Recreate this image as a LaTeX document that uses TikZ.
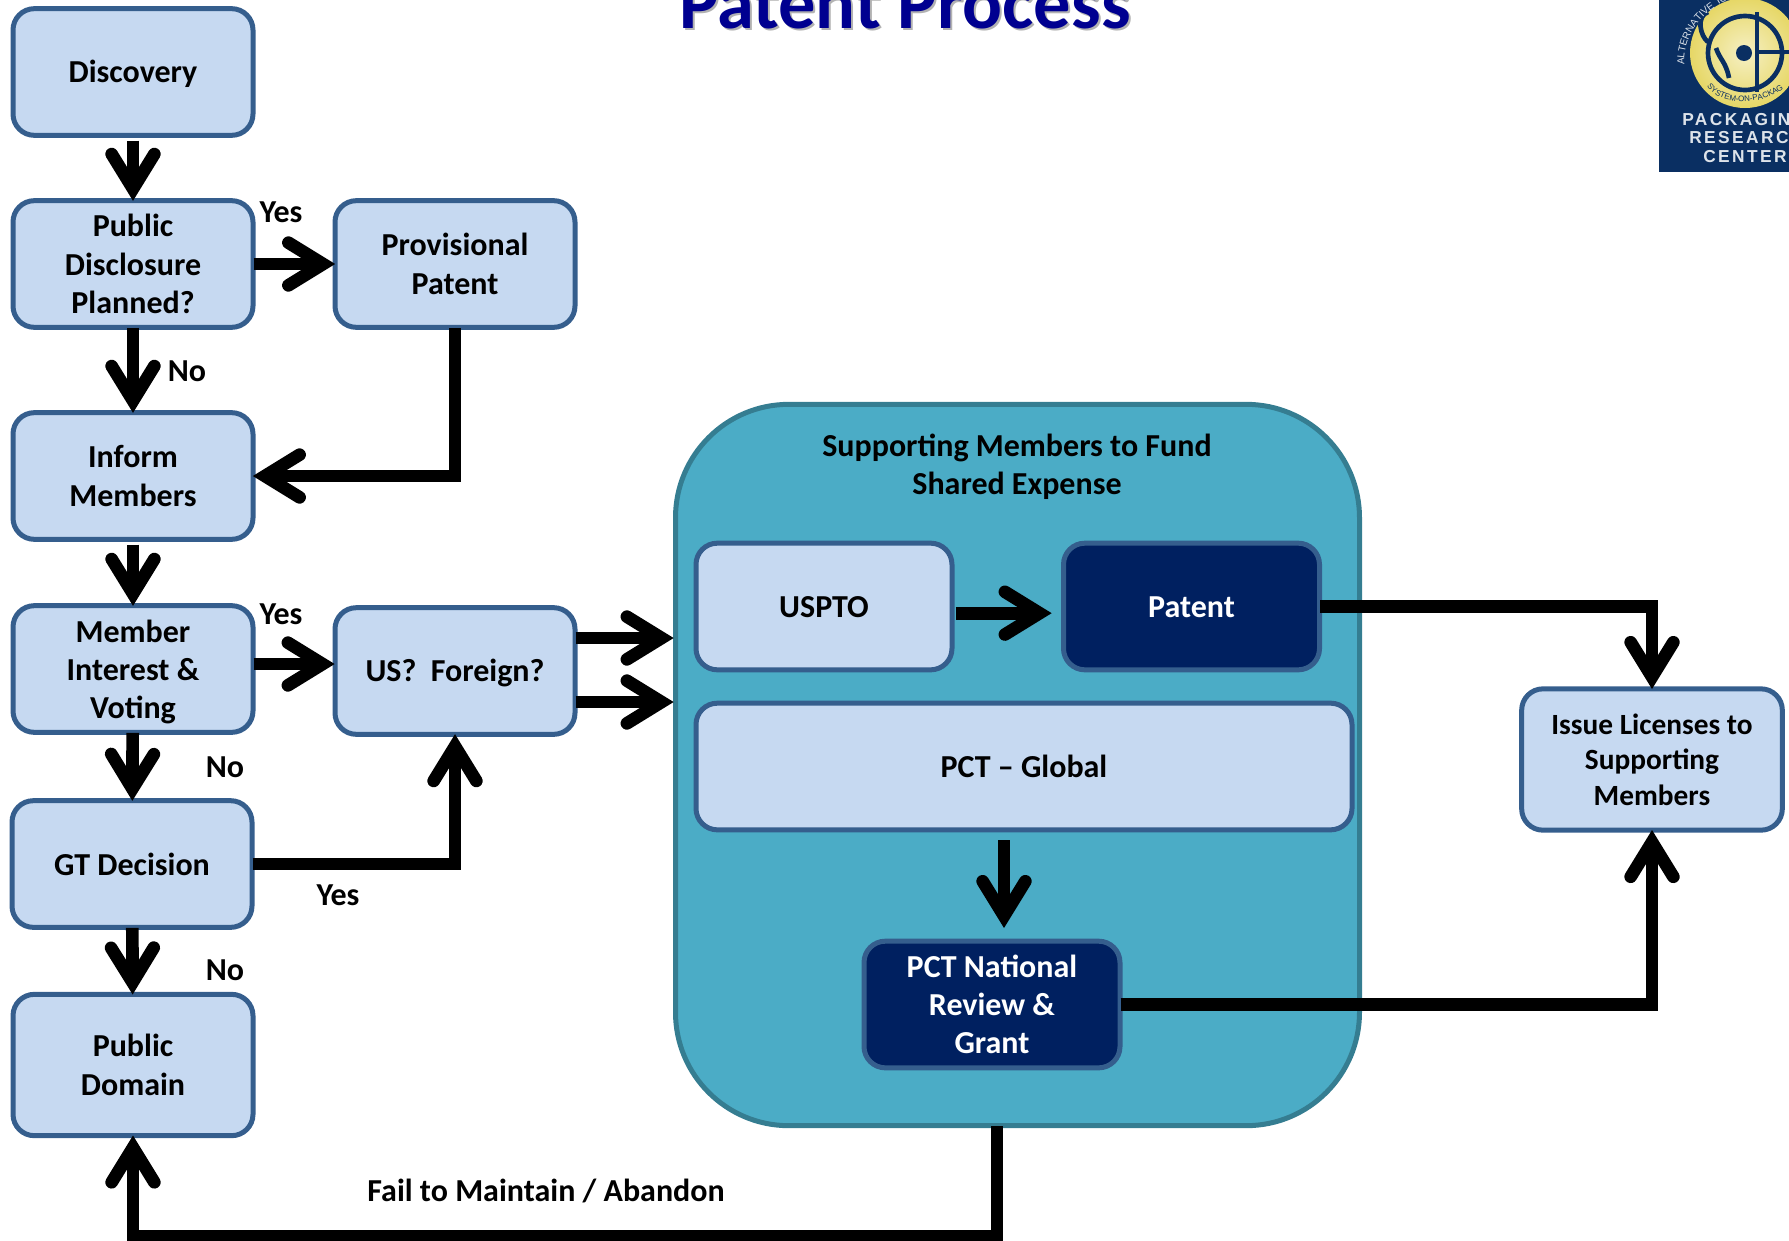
\documentclass[tikz,border=0pt]{standalone}
\usepackage{fontspec}
\setmainfont{Carlito}
\newfontfamily\logofont[LetterSpace=14]{Liberation Sans}
\usetikzlibrary{arrows.meta}
\usetikzlibrary{decorations.text}
\definecolor{boxfill}{HTML}{C6D9F1}
\definecolor{boxline}{HTML}{355E8D}
\definecolor{darkfill}{HTML}{002060}
\definecolor{bigfill}{HTML}{4BACC6}
\definecolor{bigline}{HTML}{357D91}
\definecolor{titleblue}{HTML}{000090}
\definecolor{logonavy}{HTML}{0A2F62}
\definecolor{logogold}{HTML}{E6D766}
\definecolor{logocream}{HTML}{F6F0C4}
\definecolor{logotext}{HTML}{DDE3EA}
\newcommand{\lowered}[2]{\raisebox{-#1}[\height][\depth]{#2}}
\tikzset{
  txt/.style = {font = \bfseries\fontsize{24}{28.7}\selectfont, align = center},
  titletxt/.style = {font = \bfseries\fontsize{55.8}{56}\selectfont, anchor = base},
  box/.style = {txt, draw = boxline, fill = boxfill, line width = 3.75pt, rounded corners = 16pt,
                minimum width = 180pt, minimum height = 95pt, inner sep = 0pt},
  darkbox/.style = {box, draw = boxline, fill = darkfill, text = white},
  arr/.style = {line width = 9.5pt, line join = miter, shorten < = -1.5pt, shorten > = -2pt,
                -{Straight Barb[length = 26pt, width = 32pt, line cap = round, line join = miter]}},
  logotxt/.style = {font = \logofont\bfseries\fontsize{13}{13}\selectfont, text = logotext, anchor = west, inner sep = 0pt}
}
\begin{document}
\begin{tikzpicture}[x = 0.75pt, y = -0.75pt]
\useasboundingbox (0, 0) rectangle (1789, 1240);
% title
\node[titletxt, text = gray!60] (titleshadow) at (907, 30){Patent Process};
\node[titletxt, text = titleblue] (title) at (905, 28){Patent Process};
% logo
\fill[logonavy] (1659, 0) rectangle (1789, 172);
\shade[inner color = logocream, outer color = logogold] (1745, 53) circle [radius = 55];
\draw[logonavy, line width = 3.5pt] (1745, 53) circle [radius = 37];
\draw[logonavy, line width = 3.5pt] (1757, 12) -- (1757, 92);
\draw[logonavy, line width = 3.5pt] (1757, 52) -- (1789, 52);
\draw[logonavy, line width = 3.5pt] (1708, 12) .. controls (1696, 16) and (1700, 36) .. (1708, 42);
\draw[logonavy, line width = 3.5pt] (1716, 48) .. controls (1720, 60) and (1726, 62) .. (1729, 78);
\fill[logonavy] (1744, 53) circle [radius = 8];
\path[decorate, decoration = {text along path, text align = center,
  text = {|\logofont\fontsize{7.5}{7.5}\selectfont\color{logotext}|ALTERNATIVE ICs}}]
  (1687, 78) .. controls (1676, 45) and (1698, 6) .. (1745, -6);
\path[decorate, decoration = {text along path, text align = center,
  text = {|\logofont\fontsize{6}{6}\selectfont\color{logonavy}|SYSTEM-ON-PACKAGE}}]
  (1712, 92) .. controls (1728, 105) and (1760, 105) .. (1782, 90);
\node[logotxt] (logoa) at (1682, 120){PACKAGING};
\node[logotxt] (logob) at (1689, 138){RESEARCH};
\node[logotxt] (logoc) at (1703, 157){CENTER};
% left column
\node[box] (discovery) at (133, 72){\lowered{1.7pt}{Discovery}};
\node[box] (public) at (133, 264){Public\\Disclosure\\Planned?};
\node[box] (inform) at (133, 476){Inform\\Members};
\node[box] (member) at (133, 669){\rule{0pt}{21pt}Member\\Interest \&\\Voting};
\node[box] (gt) at (132, 864){GT Decision};
\node[box, minimum height = 106pt] (domain) at (133, 1065){Public\\Domain};
\node[box] (provisional) at (455, 264){Provisional\\Patent};
\node[box] (us) at (455, 671){\lowered{1.7pt}{US?\ \ Foreign?}};
% funding block
\node[draw = bigline, fill = bigfill, line width = 3.75pt, rounded corners = 85pt,
      minimum width = 513pt, minimum height = 541pt] (big) at (1017.5, 765){};
\node[txt] (fund) at (1017, 467){Supporting Members to Fund\\Shared Expense};
\node[box, minimum width = 192pt] (uspto) at (824, 606.5){\lowered{.8pt}{USPTO}};
\node[darkbox, minimum width = 192pt] (patent) at (1191.5, 606.5){\lowered{.8pt}{Patent}};
\node[box, minimum width = 492pt] (pct) at (1024, 766.5){PCT -- Global};
\node[darkbox, minimum width = 192pt] (national) at (992, 1004.5){PCT National\\Review \&\\Grant};
\node[box, font = \bfseries\fontsize{22}{26.5}\selectfont, minimum width = 195.5pt, minimum height = 106pt] (issue) at (1652, 759.5){Issue Licenses to\\Supporting\\Members};
% corner points
\coordinate (usa) at (671, 638);
\coordinate (usb) at (671, 702);
\coordinate (usc) at (332, 664);
\coordinate (loopa) at (997, 1236);
% connectors
\draw[arr, shorten < = 2pt] (discovery) -- (public);
\draw[arr] (public) -- (inform);
\draw[arr, shorten < = 2pt] (inform) -- (member);
\draw[arr] (member) -- (gt);
\draw[arr] (gt) -- (domain);
\draw[arr] (public.east) -- (provisional.west);
\draw[arr] (provisional.south) |- (inform.east);
\draw[arr] (member.east |- usc) -- (usc);
\draw[arr] (gt.east) -| (us.south);
\draw[arr] (us.east |- usa) -- (usa);
\draw[arr] (us.east |- usb) -- (usb);
\draw[arr, shorten < = 1pt, shorten > = 7pt] ([yshift = -5pt]uspto.east) -- ([yshift = -5pt]patent.west);
\draw[arr] (patent.east) -| (issue.north);
\draw[arr, shorten < = 6pt, shorten > = 8pt] (pct.south -| 1004, 0) -- (national.north -| 1004, 0);
\draw[arr] (national.east) -| (issue.south);
\draw[arr] (big.south -| loopa) -- (loopa) -| (domain.south);
% labels
\node[txt] (yesa) at (281, 212){Yes};
\node[txt] (noa) at (187, 371){No};
\node[txt] (yesb) at (281, 614){Yes};
\node[txt] (nob) at (225, 767){No};
\node[txt] (yesc) at (338, 895){Yes};
\node[txt] (noc) at (225, 970){No};
\node[txt] (fail) at (546, 1191){Fail to Maintain / Abandon};
\end{tikzpicture}
\end{document}
